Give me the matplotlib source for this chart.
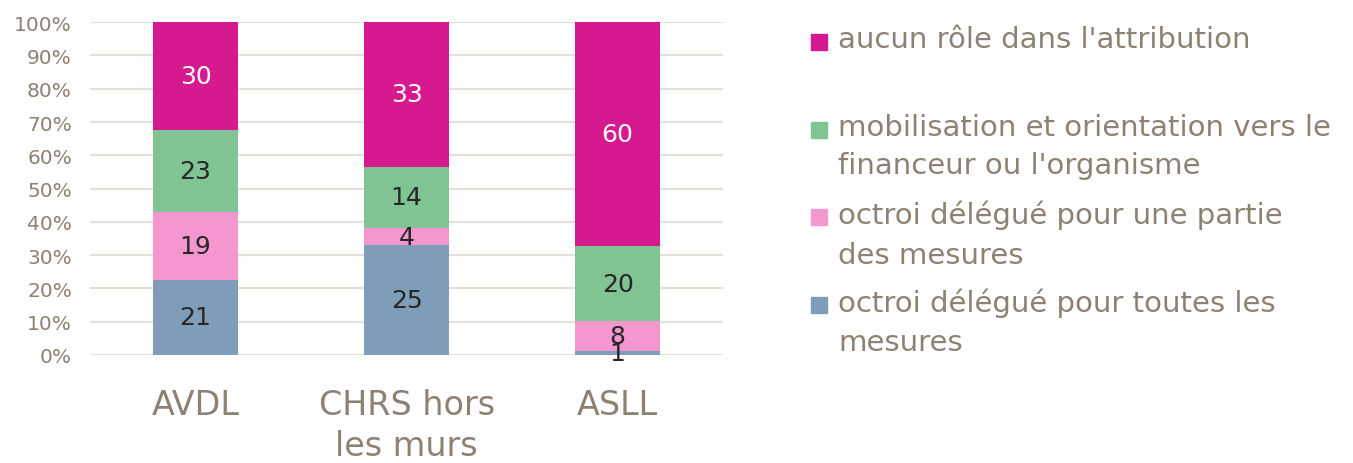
import matplotlib.pyplot as plt
from matplotlib.patches import Rectangle
import numpy as np

categories = ['AVDL', 'CHRS hors\nles murs', 'ASLL']
series_names = ['octroi délégué pour toutes les\nmesures',
                'octroi délégué pour une partie\ndes mesures',
                'mobilisation et orientation vers le\nfinanceur ou l\'organisme',
                'aucun rôle dans l\'attribution']
toutes = [21, 25, 1]
partie = [19, 4, 8]
mobilisation = [23, 14, 20]
aucun = [30, 33, 60]

colors = ['#7F9CB8', '#F497CF', '#7FC492', '#D6198F']
label_colors = ['#262626', '#262626', '#262626', 'white']
txt = '#8C8173'

plt.rcParams['font.family'] = ['DejaVu Sans']

counts = np.array([toutes, partie, mobilisation, aucun], dtype=float)
shares = counts / counts.sum(axis=0) * 100

fig = plt.figure(figsize=(13.53, 4.64), dpi=100)
ax = fig.add_axes([0.0665, 0.233, 0.468, 0.717])

x = np.arange(len(categories))
bottom = np.zeros(len(categories))
for i in range(4):
    ax.bar(x, shares[i], 0.40, bottom=bottom, color=colors[i], zorder=3)
    for j in range(len(categories)):
        ax.text(x[j], bottom[j] + shares[i][j] / 2, f'{int(counts[i][j])}',
                ha='center', va='center', fontsize=18, color=label_colors[i], zorder=4)
    bottom += shares[i]

ax.set_xlim(-0.5, 2.5)
ax.set_ylim(0, 100)
ax.set_yticks(range(0, 101, 10))
ax.set_yticklabels([f'{v}%' for v in range(0, 101, 10)], fontsize=14.5, color=txt)
ax.set_xticks(x)
ax.set_xticklabels(categories, fontsize=24, color=txt, linespacing=1.3)
ax.tick_params(axis='both', length=0)
ax.tick_params(axis='y', pad=13)
ax.tick_params(axis='x', pad=24)
ax.grid(axis='y', color='#E4E1DB', linewidth=1.5, zorder=0)
for s in ax.spines.values():
    s.set_visible(False)

# legend, top entry first
W, H = 1353, 464
order = [3, 2, 1, 0]
for k, i in enumerate(order):
    yc = 43 + 87.5 * k
    fig.patches.append(Rectangle((811 / W, 1 - (yc + 8) / H), 16 / W, 16 / H,
                                 transform=fig.transFigure, color=colors[i]))
    fig.text(838 / W, 1 - (yc - 17) / H, series_names[i],
             fontsize=21, color=txt, ha='left', va='top', linespacing=1.5)

fig.savefig('out.png', dpi=100)
